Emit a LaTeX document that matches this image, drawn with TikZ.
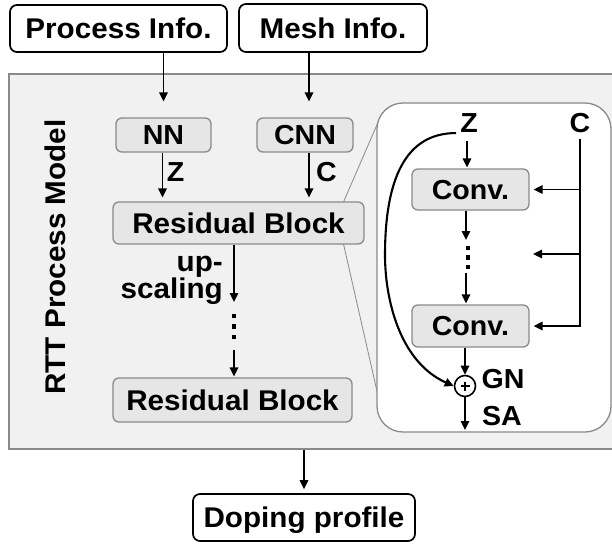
\documentclass[tikz,border=0pt]{standalone}
\usepackage{fontspec}
\setmainfont{Liberation Sans}[FakeStretch=1.04]
\usetikzlibrary{arrows.meta,calc}
\definecolor{panelfill}{HTML}{F1F1F1}
\definecolor{boxfill}{HTML}{E6E6E6}
\definecolor{edgegray}{HTML}{8A8A8A}
\newcommand\fsz[1]{\fontsize{#1}{#1}\selectfont\bfseries}
\begin{document}
\begin{tikzpicture}[x=1pt,y=-1pt,
  blackbox/.style={draw=black,line width=1.7pt,rounded corners=7pt,fill=white,
    inner sep=0pt,font=\fsz{28.5},text height=20.4pt,text depth=0pt},
  graybox/.style={draw=edgegray,line width=1.3pt,rounded corners=6pt,fill=boxfill,
    inner sep=0pt,font=\fsz{28.5},text height=20.4pt,text depth=0pt},
  smallbox/.style={graybox,font=\fsz{27.5},text height=19.7pt},
  lbl/.style={inner sep=0pt,font=\fsz{27.5},text height=19.7pt,text depth=0pt},
  arr/.style={-{Triangle[length=9pt,width=8.5pt]},line width=1.6pt},
  zoomline/.style={draw=edgegray,line width=0.8pt},
  dot/.style={fill=black,rectangle,inner sep=0pt,minimum width=3.8pt,minimum height=4.4pt}]
\clip (0,0) rectangle (612,544);

% outer model panel
\node[draw=edgegray,line width=1.3pt,fill=panelfill,minimum width=616pt,
  minimum height=375pt,inner sep=0pt] (panel) at (317,261.5) {};

% inputs and output
\node[blackbox,minimum width=217pt,minimum height=47pt] (proc) at (118.5,28.5) {Process Info.};
\node[blackbox,minimum width=188pt,minimum height=48pt] (mesh) at (333,28) {Mesh Info.};
\node[blackbox,minimum width=222pt,minimum height=47pt] (dop) at (304,517.5) {Doping profile};

% side title
\node[inner sep=0pt,font=\fsz{28.5},text height=20.4pt,text depth=0pt,rotate=90]
  (rtt) at (55,257) {RTT Process Model};

% lines that tie the first residual block to its detail view
\coordinate (ua) at (343.5,202);
\coordinate (ub) at (379,120);
\coordinate (la) at (343.5,244);
\coordinate (lb) at (379,400);
\draw[zoomline] (ua) -- (ub);
\draw[zoomline] (la) -- (lb);

% encoders and residual blocks
\node[smallbox,minimum width=95pt,minimum height=34pt] (nn) at (163.5,135) {NN};
\node[smallbox,minimum width=96pt,minimum height=34pt] (cnn) at (305,135) {CNN};
\node[graybox,minimum width=251pt,minimum height=42pt] (rb1) at (238.5,223) {Residual Block};
\node[graybox,minimum width=239pt,minimum height=44pt] (rb2) at (232.5,400) {Residual Block};

\draw[arr] (proc.south -| nn.north) -- ($(nn.north)+(0,-16)$);
\draw[arr] ($(mesh.south -| cnn.north)+(4,0)$) -- ($(cnn.north)+(4,-16)$);
\draw[arr] ($(nn.south)+(-1,0)$) -- ($(rb1.north -| nn.south)+(-1,-4)$);
\draw[arr] ($(cnn.south)+(4,0)$) -- ($(rb1.north -| cnn.south)+(4,-4)$);
\node[lbl] (zlab) at (175.5,172) {Z};
\node[lbl] (clab) at (326.5,172) {C};

\coordinate (d1) at (234,302);
\coordinate (d2) at (234,350);
\draw[arr] (rb1.south -| d1) -- (d1);
\node[dot] at (234,316) {};
\node[dot] at (234,326.5) {};
\node[dot] at (234,337) {};
\draw[arr] (d2) -- ($(rb2.north -| d2)+(0,-1)$);
\node[inner sep=0pt,align=right,anchor=north east,
  font={\fontsize{28.5}{23}\selectfont\bfseries}] (ups) at (223,255.5) {up-\\scaling};

% detail view of a residual block
\node[draw=edgegray,line width=1.3pt,fill=white,rounded corners=26pt,
  minimum width=234pt,minimum height=329pt,inner sep=0pt] (zbox) at (494,267.5) {};
\node[lbl] (zl) at (469,123) {Z};
\node[lbl] (cl) at (580,123) {C};
\node[smallbox,minimum width=117pt,minimum height=41pt] (conv1) at (470.5,189.5) {Conv.};
\node[smallbox,minimum width=117pt,minimum height=42pt] (conv2) at (470.5,326) {Conv.};
\node[circle,draw,line width=1.6pt,fill=white,minimum size=21pt,inner sep=0pt] (sum) at (465,386) {};
\draw[line width=1.2pt] ($(sum.center)+(-4.5,0)$) -- ($(sum.center)+(4.5,0)$);
\draw[line width=1.2pt] ($(sum.center)+(0,-4.5)$) -- ($(sum.center)+(0,4.5)$);
\node[lbl] (gn) at (503,379) {GN};
\node[lbl] (sa) at (502,416) {SA};

\draw[arr] ($(zl.south)+(-2,8)$) -- ($(conv1.north -| zl.south)+(-2,-1)$);
\coordinate (e1) at (466,240);
\coordinate (e2) at (466,273);
\draw[arr] (conv1.south -| e1) -- (e1);
\node[dot] at (468,248) {};
\node[dot] at (468,257.5) {};
\node[dot] at (468,267) {};
\draw[arr] (e2) -- ($(conv2.north -| e2)+(0,-1)$);
\draw[arr] (conv2.south -| sum.north) -- (sum.north);
\coordinate (out) at (465,430);
\draw[arr] (sum.south) -- (out);

% conditioning branch
\coordinate (cmid) at (580,254);
\coordinate (cmidtip) at (533,254);
\draw[arr] ($(cl.south)+(0,5.7)$) |- ($(conv2.east)+(4,0)$);
\draw[arr] (conv1.east -| cl.south) -- ($(conv1.east)+(4,0)$);
\draw[arr] (cmid) -- (cmidtip);

% skip connection
\draw[arr,line width=2.1pt] ($(zl.south west)+(-4,0)$)
  .. controls (405,133) and (385,180) .. (385,255)
  .. controls (385,300) and (400,362) .. (sum.west);

% model output
\draw[arr] (panel.south -| dop.north) -- ($(dop.north)+(0,-4)$);
\end{tikzpicture}
\end{document}
